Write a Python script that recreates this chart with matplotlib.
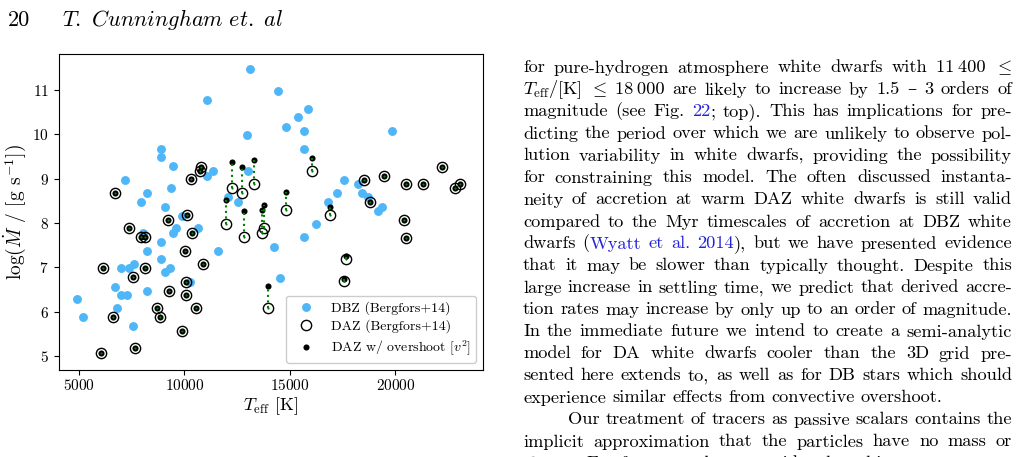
import matplotlib
matplotlib.use("Agg")
import matplotlib.pyplot as plt

plt.rcParams['font.family'] = ['cmr10', 'DejaVu Serif']
plt.rcParams['mathtext.fontset'] = 'cm'
plt.rcParams['axes.formatter.use_mathtext'] = True

W, H = 1018, 457

# DBZ white dwarfs (Bergfors+14)
dbz_teff = [4905, 5200, 6720, 6815, 7000, 7000, 7190, 7290, 7380, 7580,
            7590, 7960, 8030, 8240, 8240, 8240, 8910, 8910, 8910, 8910,
            9090, 9100, 9300, 9380, 9470, 9480, 9600, 9870, 10270, 10650,
            11080, 11090, 11365, 11590, 12060, 12530, 12980, 13010, 13090, 14230,
            14420, 14530, 14800, 15380, 15650, 15650, 15650, 15850, 16230, 16800,
            17240, 17570, 18230, 18430, 18710, 19190, 19380, 19850]
dbz_logm = [6.29, 5.89, 6.57, 6.08, 6.98, 6.38, 8.98, 6.38, 6.98, 5.69,
            7.08, 8.48, 7.78, 8.68, 7.38, 6.48, 9.68, 9.48, 7.58, 7.18,
            6.89, 8.37, 6.98, 8.78, 7.78, 9.28, 7.88, 8.17, 6.68, 7.89,
            10.78, 9.07, 9.18, 7.37, 8.59, 8.48, 9.98, 9.18, 11.47, 7.47,
            10.98, 6.77, 10.17, 10.38, 10.08, 9.67, 7.68, 10.58, 7.98, 8.48,
            8.67, 8.98, 8.88, 8.67, 8.58, 8.28, 8.37, 10.08]

# DAZ white dwarfs (Bergfors+14) and the same stars with overshoot
daz_teff = [6050, 6150, 6630, 6720, 7380, 7580, 7660, 7950, 8130, 8140,
            8720, 8850, 9200, 9290, 9870, 10040, 10050, 10050, 10140, 10320,
            10340, 10540, 10720, 10800, 10900, 11970, 12240, 12710, 12800, 13280,
            13660, 13750, 13970, 14800, 16040, 16900, 17570, 17650, 18520, 18800,
            19470, 20420, 20510, 20510, 21290, 22220, 22810, 23080]
daz_logm = [5.08, 6.98, 5.88, 8.68, 7.88, 6.78, 5.18, 7.68, 7.68, 6.98,
            6.08, 5.88, 8.08, 6.48, 5.58, 7.38, 6.68, 6.38, 8.18, 8.99,
            7.78, 6.08, 9.18, 9.27, 7.08, 7.98, 8.79, 8.68, 7.68, 8.88,
            7.77, 7.88, 6.08, 8.29, 9.18, 8.18, 6.69, 7.18, 8.98, 8.48,
            9.07, 8.07, 8.88, 7.67, 8.88, 9.27, 8.78, 8.88]
daz_over = [5.08, 6.98, 5.88, 8.68, 7.88, 6.78, 5.18, 7.68, 7.68, 6.98,
            6.08, 5.88, 8.08, 6.48, 5.58, 7.38, 6.68, 6.38, 8.18, 8.99,
            7.78, 6.08, 9.18, 9.27, 7.08, 8.53, 9.37, 9.27, 8.27, 9.43,
            8.30, 8.41, 6.59, 8.71, 9.47, 8.37, 6.75, 7.25, 8.98, 8.48,
            9.07, 8.07, 8.88, 7.67, 8.88, 9.27, 8.78, 8.88]

x_ticks = [5000, 10000, 15000, 20000]
y_ticks = [5, 6, 7, 8, 9, 10, 11]

# page text, « » marks link-coloured parts
body_lines = [
    "for pure-hydrogen atmosphere white dwarfs with 11\u2009400 $\\leq$",
    "$T_\\mathrm{eff}$/[K] $\\leq$ 18\u2009000 are likely to increase by 1.5 \u2013 3 orders of",
    "magnitude (see Fig. «22»; top). This has implications for pre-",
    "dicting the period over which we are unlikely to observe pol-",
    "lution variability in white dwarfs, providing the possibility",
    "for constraining this model. The often discussed instanta-",
    "neity of accretion at warm DAZ white dwarfs is still valid",
    "compared to the Myr timescales of accretion at DBZ white",
    "dwarfs («Wyatt et al. 2014»), but we have presented evidence",
    "that it may be slower than typically thought. Despite this",
    "large increase in settling time, we predict that derived accre-",
    "tion rates may increase by only up to an order of magnitude.",
    "In the immediate future we intend to create a semi-analytic",
    "model for DA white dwarfs cooler than the 3D grid pre-",
    "sented here extends to, as well as for DB stars which should",
    "experience similar effects from convective overshoot.",
    "Our treatment of tracers as passive scalars contains the",
    "implicit approximation that the particles have no mass or",
    "charge. For future work we consider that this approximation",
]
ragged = [15]
indented = [16]
link_color = '#2121d8'

fig = plt.figure(figsize=(W / 100, H / 100), dpi=100)
ax = fig.add_axes([58.5 / W, 1 - 370 / H, (483 - 58.5) / W, (370 - 54) / H])

ax.plot(dbz_teff, dbz_logm, 'o', color='#4fb6f7', ms=6.4, mec='none',
        label='DBZ (Bergfors+14)', zorder=2)
ax.plot(daz_teff, daz_logm, 'o', mfc='none', mec='black', ms=7.4, mew=1.0,
        label='DAZ (Bergfors+14)', zorder=3)
ax.plot(daz_teff, daz_over, 'o', color='black', ms=4.4, mec='none',
        label=r'DAZ w/ overshoot [$v^2$]', zorder=4)
for t, a, b in zip(daz_teff, daz_logm, daz_over):
    ax.plot([t, t], [a, b], ':', color='green', lw=1.5, zorder=5)
ax.plot(daz_teff, daz_logm, 'o', color='green', ms=1.6, mec='none', zorder=5)

ax.set_xlim(4030, 24150)
ax.set_ylim(4.69, 11.81)
ax.set_xticks(x_ticks)
ax.set_yticks(y_ticks)
ax.tick_params(labelsize=11)
ax.tick_params(axis='x', pad=2)
ax.set_xlabel(r'$T_\mathrm{eff}$ [K]', fontsize=13, labelpad=2)
ax.set_ylabel(r'$\log(\dot{M}$ / [g s$^{-1}$])', fontsize=14, labelpad=3)
ax.legend(loc='lower right', fontsize=10, labelspacing=0.35,
          edgecolor='0.8', framealpha=1)

# header
fig.text(8 / W, 1 - 26 / H, '20', fontsize=16, va='baseline')
fig.text(62 / W, 1 - 26 / H, r'$\mathit{T.\ Cunningham\ et.\ al}$', fontsize=16,
         va='baseline')

renderer = fig.canvas.get_renderer()


def split_words(line):
    words, blue = [], False
    for raw in line.split(' '):
        pieces, buf = [], ''
        for ch in raw:
            if ch in '«»':
                if buf:
                    pieces.append((buf, blue))
                buf = ''
                blue = ch == '«'
            else:
                buf += ch
        if buf:
            pieces.append((buf, blue))
        words.append(pieces)
    return words


def draw_line(line, y, x0, x1, justify, size=13.2):
    words = split_words(line)
    placed, widths = [], []
    for pieces in words:
        ws = []
        for s, b in pieces:
            t = fig.text(0, 0, s, fontsize=size, va='baseline',
                         color=link_color if b else 'black')
            ws.append((t, t.get_window_extent(renderer).width))
        placed.append(ws)
        widths.append(sum(w for _, w in ws))
    if justify:
        gap = (x1 - x0 - sum(widths)) / (len(words) - 1)
    else:
        gap = size / 72 * 100 * 0.333
    x = x0
    for ws, wt in zip(placed, widths):
        xx = x
        for t, w in ws:
            t.set_position((xx / W, 1 - y / H))
            xx += w
        x += wt + gap


for i, line in enumerate(body_lines):
    x0 = 568 if i in indented else 523
    draw_line(line, 72.5 + 22 * i, x0, 1012, i not in ragged)

fig.savefig('out.png', dpi=100)
